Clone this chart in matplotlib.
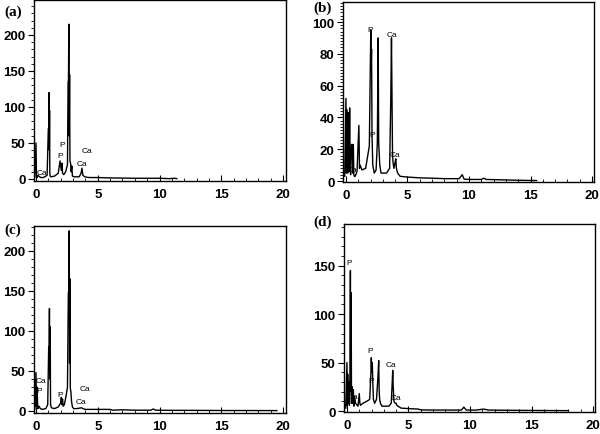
import matplotlib
matplotlib.use("Agg")
import matplotlib.pyplot as plt
from matplotlib.ticker import MultipleLocator

plt.rcParams["font.family"] = "Liberation Sans"
plt.rcParams["font.weight"] = "bold"

# spectrum (a)
energy_a = [-0.1, 0.00, 0.04, 0.08, 0.15, 0.30, 0.40, 0.60, 0.90, 1.00,
            1.03, 1.06, 1.08, 1.10, 1.12, 1.15, 1.20, 1.50, 1.80, 1.95,
            2.05, 2.10, 2.15, 2.25, 2.40, 2.55, 2.60, 2.63, 2.66, 2.69,
            2.72, 2.75, 2.80, 2.85, 2.90, 2.95, 3.10, 3.50, 3.65, 3.72,
            3.80, 3.95, 4.30, 5.00, 6.00, 8.00, 9.50, 10.00, 10.80, 11.20,
            11.40]
counts_a = [2, 50, 4, 2, 5, 3, 2, 2, 5, 70,
            70, 120, 40, 95, 8, 4, 3, 4, 8, 25,
            12, 22, 8, 6, 10, 20, 135, 135, 215, 60,
            145, 25, 22, 10, 18, 4, 3, 3, 8, 15,
            5, 3, 2, 2, 1.5, 1, 1, 1, 0.5, 1,
            0.5]

# spectrum (b)
energy_b = [-0.1, 0.00, 0.03, 0.06, 0.10, 0.15, 0.20, 0.25, 0.30, 0.34,
            0.38, 0.45, 0.52, 0.55, 0.60, 0.64, 0.68, 0.75, 0.90, 1.05,
            1.10, 1.15, 1.30, 1.60, 1.90, 1.98, 2.02, 2.05, 2.08, 2.12,
            2.18, 2.30, 2.45, 2.55, 2.62, 2.66, 2.70, 2.75, 2.85, 3.00,
            3.30, 3.55, 3.65, 3.70, 3.74, 3.78, 3.82, 3.90, 4.00, 4.05,
            4.10, 4.20, 4.40, 5.00, 6.00, 7.00, 8.00, 9.20, 9.45, 9.60,
            10.00, 11.00, 11.20, 11.40, 12.50, 14.00, 15.50]
counts_b = [3, 52, 5, 45, 8, 5, 43, 6, 46, 10,
            4, 23, 23, 5, 23, 4, 3, 3, 6, 35,
            8, 10, 7, 8, 22, 72, 95, 72, 83, 28,
            10, 5, 7, 24, 90, 24, 18, 10, 5, 5,
            5, 8, 55, 90, 55, 20, 12, 8, 12, 14,
            8, 5, 3, 2.5, 2, 1.8, 1.5, 1.5, 4, 1.2,
            1, 1, 1.8, 1, 0.8, 0.5, 0.3]

# spectrum (c)
energy_c = [-0.1, 0.00, 0.04, 0.08, 0.15, 0.25, 0.35, 0.50, 0.80, 0.95,
            1.03, 1.06, 1.09, 1.12, 1.15, 1.18, 1.25, 1.50, 1.80, 2.00,
            2.05, 2.10, 2.15, 2.20, 2.30, 2.45, 2.55, 2.62, 2.66, 2.69,
            2.72, 2.75, 2.78, 2.82, 2.88, 2.95, 3.05, 3.30, 3.70, 3.80,
            4.00, 5.00, 6.00, 6.20, 7.00, 8.00, 9.30, 9.50, 9.70, 11.00,
            13.00, 15.00, 17.00, 19.50]
counts_c = [2, 48, 5, 30, 3, 6, 3, 2, 3, 8,
            80, 80, 128, 40, 105, 8, 4, 3, 5, 10,
            17, 8, 15, 6, 8, 20, 30, 148, 148, 225,
            60, 165, 28, 25, 12, 5, 3, 3, 4, 3,
            2, 2, 2, 1, 1.5, 1, 1, 2.5, 1, 0.8,
            0.8, 0.6, 0.6, 0.5]

# spectrum (d)
energy_d = [-0.1, 0.00, 0.03, 0.06, 0.10, 0.15, 0.20, 0.24, 0.28, 0.31,
            0.34, 0.37, 0.42, 0.48, 0.52, 0.56, 0.62, 0.70, 0.90, 1.00,
            1.05, 1.10, 1.30, 1.60, 1.85, 1.95, 1.98, 2.02, 2.06, 2.10,
            2.15, 2.25, 2.40, 2.52, 2.58, 2.62, 2.66, 2.72, 2.85, 3.10,
            3.40, 3.60, 3.68, 3.72, 3.76, 3.82, 3.92, 4.00, 4.05, 4.15,
            4.40, 5.00, 5.80, 6.00, 7.00, 8.00, 9.30, 9.50, 9.70, 10.50,
            11.10, 11.30, 11.50, 13.00, 15.00, 18.00]
counts_d = [3, 50, 5, 38, 8, 30, 6, 35, 145, 20,
            122, 8, 25, 8, 22, 5, 15, 8, 5, 18,
            8, 6, 8, 10, 12, 40, 55, 40, 50, 30,
            12, 8, 12, 35, 52, 20, 12, 8, 5, 5,
            5, 8, 30, 42, 25, 10, 8, 8, 6, 5,
            3, 2.5, 2, 1.2, 1, 1, 1, 4, 1, 1,
            2, 1.5, 1, 0.8, 0.6, 0.4]

# peak labels
peaks_a = [("Ca", 0.5, 9), ("P", 2.15, 48), ("P", 2.0, 32), ("Ca", 4.1, 39), ("Ca", 3.7, 22)]
peaks_b = [("Ca", 0.45, 7), ("P", 2.0, 95), ("P", 2.1, 29), ("Ca", 3.75, 92), ("Ca", 4.0, 17)]
peaks_c = [("Ca", 0.4, 38), ("P", 0.27, 26), ("P", 2.0, 21), ("Ca", 4.0, 28), ("Ca", 3.6, 12)]
peaks_d = [("P", 0.2, 153), ("Ca", 0.5, 15), ("P", 1.9, 62), ("P", 2.0, 31), ("Ca", 3.6, 48), ("Ca", 4.0, 14)]

W, H = 600, 435
fig = plt.figure(figsize=(6, 4.35), dpi=100)


def px_axes(left, top, right, bottom):
    return fig.add_axes([left / W, 1 - bottom / H, (right - left) / W, (bottom - top) / H])


panels = [
    ("(a)", (34, 1, 286, 182), (-0.16, 20.24), (-2.8, 248.6), 50, 10, energy_a, counts_a, peaks_a, (4, 12)),
    ("(b)", (343, 3, 594, 183), (-0.24, 20.16), (-0.6, 112.6), 20, 2, energy_b, counts_b, peaks_b, (313, 8)),
    ("(c)", (34, 227, 286, 414), (-0.16, 20.24), (-2.5, 231), 50, 10, energy_c, counts_c, peaks_c, (4, 230)),
    ("(d)", (344, 225, 595, 413), (-0.24, 20.16), (-1, 193), 50, 10, energy_d, counts_d, peaks_d, (313, 222)),
]

for tag, box, xl, yl, ymaj, ymin, ex, cy, peaks, tagpos in panels:
    ax = px_axes(*box)
    ax.plot(ex, cy, color="black", lw=1.0)
    ax.set_xlim(*xl)
    ax.set_ylim(*yl)
    ax.xaxis.set_major_locator(MultipleLocator(5))
    ax.xaxis.set_minor_locator(MultipleLocator(1))
    ax.yaxis.set_major_locator(MultipleLocator(ymaj))
    ax.yaxis.set_minor_locator(MultipleLocator(ymin))
    ax.tick_params(axis="x", which="major", direction="in", length=4, pad=5, labelsize=9.5)
    ax.tick_params(axis="x", which="minor", direction="in", length=2)
    ax.tick_params(axis="y", which="major", direction="out", length=4, pad=2, labelsize=9.5)
    ax.tick_params(axis="y", which="minor", direction="out", length=2)
    for s in ax.spines.values():
        s.set_linewidth(1.0)
    for txt, x, y in peaks:
        ax.text(x, y, txt, fontsize=6, fontweight="normal", ha="center", va="center")
    fig.text(tagpos[0] / W, 1 - tagpos[1] / H, tag, fontsize=11, fontweight="bold",
             family="Liberation Serif", ha="left", va="center")

fig.savefig("out.png", dpi=100)
